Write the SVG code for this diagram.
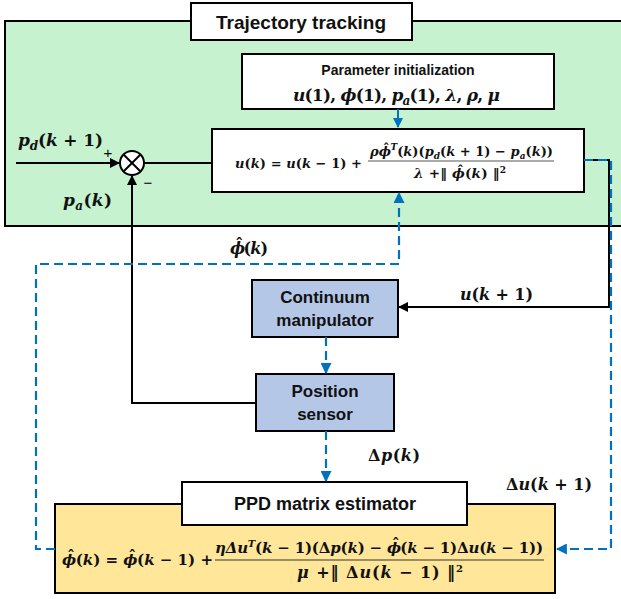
<svg xmlns="http://www.w3.org/2000/svg" width="621" height="599" viewBox="0 0 621 599">
<defs>
<style>
.box{stroke:#000;stroke-width:2}
.lbl{font-family:"Liberation Sans",Arial,sans-serif;font-weight:bold;fill:#111;text-anchor:middle}
.m{font-family:"DejaVu Serif","Liberation Serif",serif;font-weight:bold;font-style:italic;fill:#111}
.n{font-style:normal}
.blk{fill:none;stroke:#000;stroke-width:2}
.bd{fill:none;stroke:#0070c0;stroke-width:2.2;stroke-dasharray:9 5}
.bs{fill:none;stroke:#0070c0;stroke-width:2}
</style>
<marker id="ak" viewBox="0 0 10 10" refX="9" refY="5" markerWidth="5" markerHeight="5" orient="auto" markerUnits="strokeWidth"><path d="M0,0 L10,5 L0,10 z" fill="#000"/></marker>
<marker id="ab" viewBox="0 0 10 10" refX="9" refY="5" markerWidth="5" markerHeight="5" orient="auto" markerUnits="strokeWidth"><path d="M0,0 L10,5 L0,10 z" fill="#0070c0"/></marker>
</defs>

<g id="trajectory-tracking">
<rect class="box" x="5" y="21" width="630" height="205" fill="#c6f2cf"/>
<rect class="box" x="191" y="3" width="221" height="37" fill="#fff"/>
<text class="lbl" x="301" y="29" font-size="19">Trajectory tracking</text>
</g>

<g id="parameter-init">
<rect class="box" x="242" y="54" width="312" height="55" fill="#fff"/>
<text class="lbl" x="398" y="75" font-size="14">Parameter initialization</text>
<text class="m" x="293" y="101" font-size="17" textLength="207">u<tspan class="n">(1), </tspan>ϕ<tspan class="n">(1), </tspan>p<tspan font-size="12" dy="4">a</tspan><tspan class="n" dy="-4">(1), </tspan>λ<tspan class="n">, </tspan>ρ<tspan class="n">, </tspan>μ</text>
</g>

<g id="control-law">
<rect class="box" x="212" y="129" width="372" height="63" fill="#fff"/>
<text class="m" x="235" y="168" font-size="13" textLength="127">u<tspan class="n">(</tspan>k<tspan class="n">) = </tspan>u<tspan class="n">(</tspan>k<tspan class="n"> − 1) +</tspan></text>
<text class="m" x="370" y="156" font-size="13" textLength="183">ρϕ<tspan class="n" dx="-8" dy="-3">ˆ</tspan><tspan font-size="9" dx="1" dy="-3">T</tspan><tspan class="n" dy="6">(</tspan>k<tspan class="n">)(</tspan>p<tspan font-size="9" dy="3">d</tspan><tspan class="n" dy="-3">(</tspan>k<tspan class="n"> + 1) − </tspan>p<tspan font-size="9" dy="3">a</tspan><tspan class="n" dy="-3">(</tspan>k<tspan class="n">))</tspan></text>
<line x1="368" y1="161" x2="554" y2="161" stroke="#555" stroke-width="1"/>
<text class="m" x="414" y="178" font-size="13.5" textLength="92">λ<tspan class="n"> +‖ </tspan>ϕ<tspan class="n" dx="-8" dy="-3">ˆ</tspan><tspan class="n" dx="1" dy="3">(</tspan>k<tspan class="n">) ‖</tspan><tspan class="n" font-size="9" dy="-5">2</tspan></text>
</g>

<g id="sum-junction">
<circle cx="132" cy="163" r="12" fill="#fff" stroke="#000" stroke-width="2"/>
<line x1="123.5" y1="154.5" x2="140.5" y2="171.5" stroke="#000" stroke-width="2"/>
<line x1="140.5" y1="154.5" x2="123.5" y2="171.5" stroke="#000" stroke-width="2"/>
<text x="108" y="158" font-family="Liberation Sans,Arial,sans-serif" font-size="15" text-anchor="middle">+</text>
<text x="148" y="188" font-family="Liberation Sans,Arial,sans-serif" font-size="15" text-anchor="middle">−</text>
</g>

<g id="continuum-manipulator">
<rect class="box" x="252" y="280" width="146" height="57" fill="#b4c7e7"/>
<text class="lbl" x="325" y="303" font-size="17">Continuum</text>
<text class="lbl" x="325" y="326" font-size="17">manipulator</text>
</g>

<g id="position-sensor">
<rect class="box" x="256" y="374" width="138" height="57" fill="#b4c7e7"/>
<text class="lbl" x="325" y="397" font-size="17">Position</text>
<text class="lbl" x="325" y="420" font-size="17">sensor</text>
</g>

<g id="ppd-estimator">
<rect class="box" x="55" y="504" width="500" height="89" fill="#ffe699"/>
<rect class="box" x="182" y="482" width="285" height="43" fill="#fff"/>
<text class="lbl" x="325" y="510" font-size="18">PPD matrix estimator</text>
<text class="m" x="62" y="565" font-size="15" textLength="151">ϕ<tspan class="n" dx="-9" dy="-4">ˆ</tspan><tspan class="n" dx="1" dy="4">(</tspan>k<tspan class="n">) = </tspan>ϕ<tspan class="n" dx="-9" dy="-4">ˆ</tspan><tspan class="n" dx="1" dy="4">(</tspan>k<tspan class="n"> − 1) +</tspan></text>
<text class="m" x="215" y="553" font-size="15" textLength="328">ηΔu<tspan font-size="10" dy="-6">T</tspan><tspan class="n" dy="6">(</tspan>k<tspan class="n"> − 1)(Δ</tspan>p<tspan class="n">(</tspan>k<tspan class="n">) − </tspan>ϕ<tspan class="n" dx="-9" dy="-4">ˆ</tspan><tspan class="n" dx="1" dy="4">(</tspan>k<tspan class="n"> − 1)Δ</tspan>u<tspan class="n">(</tspan>k<tspan class="n"> − 1))</tspan></text>
<line x1="215" y1="560" x2="544" y2="560" stroke="#333" stroke-width="1.2"/>
<text class="m" x="297" y="578" font-size="16" textLength="166">μ<tspan class="n"> +‖ Δ</tspan>u<tspan class="n">(</tspan>k<tspan class="n"> − 1) ‖</tspan><tspan class="n" font-size="10" dy="-6">2</tspan></text>
</g>

<g id="connectors">
<polyline class="blk" points="16,163 119,163" marker-end="url(#ak)"/>
<polyline class="blk" points="144,163 212,163"/>
<polyline class="blk" points="256,403 132,403 132,176" marker-end="url(#ak)"/>
<polyline class="blk" points="584,160 609,160 609,307 399,307" marker-end="url(#ak)"/>
<polyline class="bs" points="398,109 398,127" marker-end="url(#ab)"/>
<polyline class="bd" points="584,160 611,160 611,549 557,549" marker-end="url(#ab)"/>
<polyline class="bd" points="55,549 36,549 36,264 399,264 399,193" marker-end="url(#ab)"/>
<polyline class="bd" points="326,337 326,373" marker-end="url(#ab)"/>
<polyline class="bd" points="326,431 326,481" marker-end="url(#ab)"/>
</g>

<g id="labels">
<text class="m" x="18" y="146" font-size="17" textLength="85">p<tspan font-size="12" dy="4">d</tspan><tspan class="n" dy="-4">(</tspan>k<tspan class="n"> + 1)</tspan></text>
<text class="m" x="63" y="206" font-size="17" textLength="49">p<tspan font-size="12" dy="4">a</tspan><tspan class="n" dy="-4">(</tspan>k<tspan class="n">)</tspan></text>
<text class="m" x="230" y="254" font-size="16" textLength="38">ϕ<tspan class="n" dx="-9" dy="-4">ˆ</tspan><tspan class="n" dx="1" dy="4">(</tspan>k<tspan class="n">)</tspan></text>
<text class="m" x="460" y="300" font-size="16" textLength="73">u<tspan class="n">(</tspan>k<tspan class="n"> + 1)</tspan></text>
<text class="m" x="368" y="461" font-size="16" textLength="52"><tspan class="n">Δ</tspan>p<tspan class="n">(</tspan>k<tspan class="n">)</tspan></text>
<text class="m" x="506" y="490" font-size="16" textLength="86"><tspan class="n">Δ</tspan>u<tspan class="n">(</tspan>k<tspan class="n"> + 1)</tspan></text>
</g>
</svg>
